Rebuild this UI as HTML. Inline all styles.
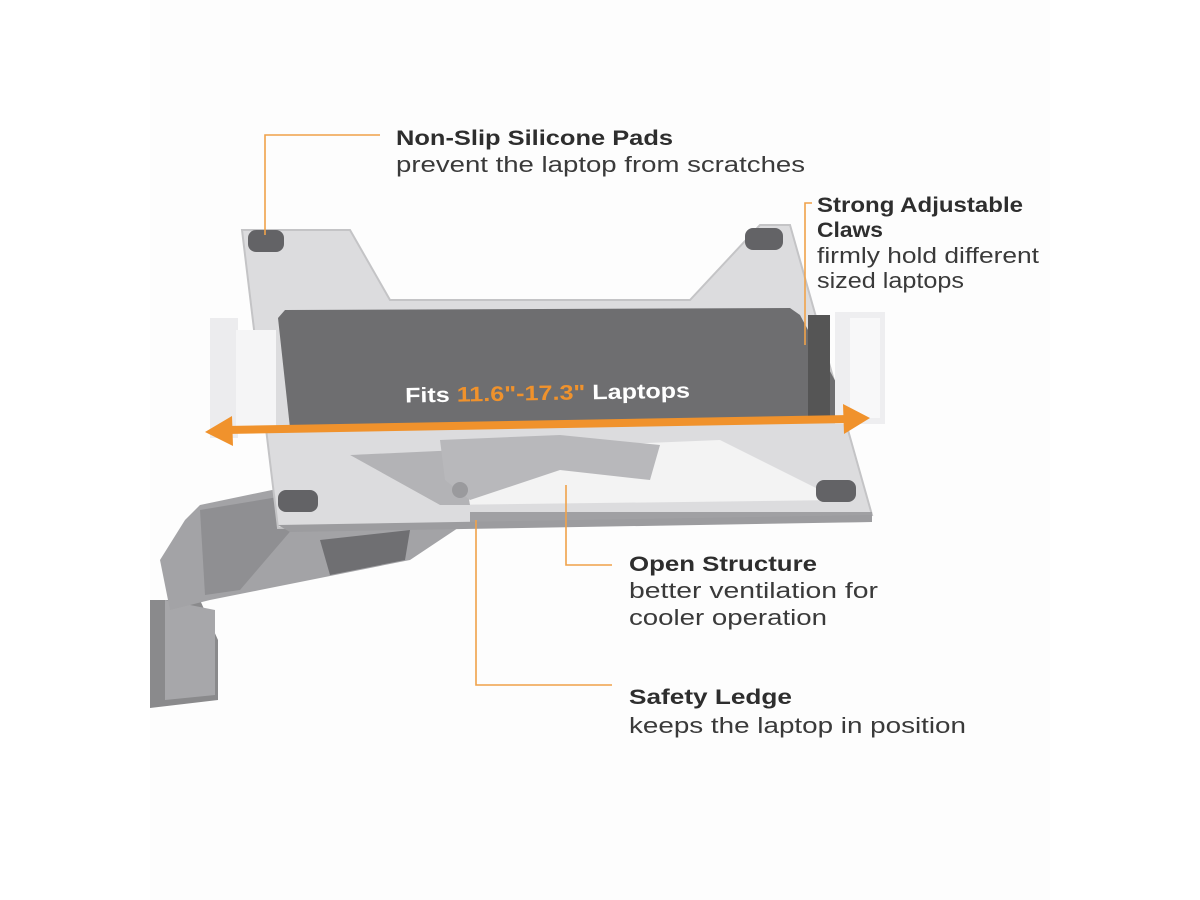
<!DOCTYPE html>
<html><head><meta charset="utf-8"><style>
html,body{margin:0;padding:0;background:#fff;}
svg{display:block}
.b{font-family:"Liberation Sans",sans-serif;font-weight:bold;font-size:21px;fill:#2e2e2e}
.r{font-family:"Liberation Sans",sans-serif;font-size:22px;fill:#3a3a3a}
</style></head><body>
<svg width="1200" height="900" viewBox="0 0 1200 900">
<rect width="1200" height="900" fill="#fff"/>
<rect x="150" y="0" width="900" height="900" fill="#fdfdfd"/>
<!-- arm -->
<path d="M150 600 L150 708 L218 700 L218 640 L200 600 Z" fill="#8a8a8c"/>
<path d="M165 600 L165 700 L215 695 L215 610 Z" fill="#a7a7aa"/>
<path d="M185 520 L200 505 L320 480 L470 470 L470 520 L410 560 L260 590 L210 600 L170 610 L160 560 Z" fill="#a3a3a6"/>
<path d="M200 510 L290 495 L300 520 L240 590 L205 595 Z" fill="#8f8f92"/>
<path d="M320 540 L410 530 L405 560 L330 575 Z" fill="#6f6f72"/>
<!-- plate -->
<path d="M242 230 L350 230 L390 300 L690 300 L760 225 L790 225 L872 515 L278 528 Z" fill="#dcdcde"/>
<path d="M242 230 L350 230 L390 300 L690 300 L760 225 L790 225 L872 515 L278 528 Z" fill="none" stroke="#c4c4c6" stroke-width="2"/>
<!-- open hole -->
<path d="M350 455 L720 440 L840 500 L440 505 Z" fill="#f3f3f3"/>
<path d="M350 455 L460 450 L470 505 L440 505 Z" fill="#b3b3b6"/>
<path d="M440 440 L560 435 L660 445 L650 480 L560 470 L470 500 L445 480 Z" fill="#b8b8bb"/>
<circle cx="460" cy="490" r="8" fill="#9a9a9d"/>
<!-- ledge -->
<path d="M470 512 L872 512 L872 522 L470 525 Z" fill="#a0a0a3"/>
<path d="M278 525 L872 515 L872 522 L290 532 Z" fill="#9c9c9f"/>
<!-- dark pad -->
<path d="M285 310 L790 308 L800 315 L855 418 L290 428 L278 318 Z" fill="#6e6e70"/>
<!-- silicone pads -->
<rect x="248" y="230" width="36" height="22" rx="8" fill="#636366"/>
<rect x="745" y="228" width="38" height="22" rx="8" fill="#636366"/>
<rect x="278" y="490" width="40" height="22" rx="8" fill="#636366"/>
<rect x="816" y="480" width="40" height="22" rx="8" fill="#636366"/>
<!-- claws -->
<rect x="210" y="318" width="28" height="120" fill="#ececee"/>
<rect x="236" y="330" width="40" height="100" fill="#f5f5f6"/>
<rect x="808" y="315" width="22" height="108" fill="#555"/>
<rect x="835" y="312" width="50" height="112" fill="#eeeef0"/>
<rect x="850" y="318" width="30" height="100" fill="#f8f8f9"/>
<!-- arrow -->
<path d="M225 430 L850 419" stroke="#f0922c" stroke-width="8"/>
<path d="M205 432 L232 416 L233 446 Z" fill="#f0922c"/>
<path d="M870 418 L843 404 L844 434 Z" fill="#f0922c"/>
<text x="405" y="400" transform="rotate(-1 548 390)" font-family="Liberation Sans,sans-serif" font-weight="bold" font-size="21" fill="#fff" textLength="285" lengthAdjust="spacingAndGlyphs">Fits <tspan fill="#f0922c">11.6"-17.3"</tspan> Laptops</text>
<!-- leaders -->
<g stroke="#f0a24a" stroke-width="1.6" fill="none">
<path d="M380 135 L265 135 L265 235"/>
<path d="M812 203 L805 203 L805 345"/>
<path d="M566 485 L566 565 L612 565"/>
<path d="M476 520 L476 685 L612 685"/>
</g>
<!-- labels -->
<text class="b" x="396" y="145" textLength="277" lengthAdjust="spacingAndGlyphs">Non-Slip Silicone Pads</text>
<text class="r" x="396" y="172" textLength="409" lengthAdjust="spacingAndGlyphs">prevent the laptop from scratches</text>
<text class="b" x="817" y="212" textLength="206" lengthAdjust="spacingAndGlyphs">Strong Adjustable</text>
<text class="b" x="817" y="237" textLength="66" lengthAdjust="spacingAndGlyphs">Claws</text>
<text class="r" x="817" y="263" textLength="222" lengthAdjust="spacingAndGlyphs">firmly hold different</text>
<text class="r" x="817" y="288" textLength="147" lengthAdjust="spacingAndGlyphs">sized laptops</text>
<text class="b" x="629" y="571" textLength="188" lengthAdjust="spacingAndGlyphs">Open Structure</text>
<text class="r" x="629" y="598" textLength="249" lengthAdjust="spacingAndGlyphs">better ventilation for</text>
<text class="r" x="629" y="625" textLength="198" lengthAdjust="spacingAndGlyphs">cooler operation</text>
<text class="b" x="629" y="704" textLength="163" lengthAdjust="spacingAndGlyphs">Safety Ledge</text>
<text class="r" x="629" y="733" textLength="337" lengthAdjust="spacingAndGlyphs">keeps the laptop in position</text>
</svg>
</body></html>
